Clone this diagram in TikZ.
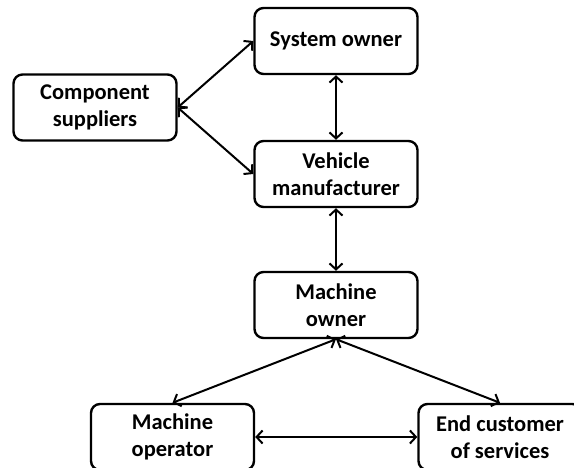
\documentclass[tikz,border=0pt]{standalone}
\usepackage{fontspec}
\setmainfont{Carlito}
\usetikzlibrary{arrows.meta}

\tikzset{
	actor/.style = {draw, rounded corners = 9pt, line width = 2.4pt,
		minimum width = 163pt, minimum height = 66pt, inner sep = 0pt,
		align = center, font = \fontsize{22.5}{27}\selectfont\bfseries},
	link/.style = {line width = 2pt,
		{Straight Barb[length = 6pt, width = 13pt]}-{Straight Barb[length = 6pt, width = 13pt]}}
}

\begin{document}
\begin{tikzpicture}[x = 1pt, y = -1pt]
			\useasboundingbox (0, 0) rectangle (574, 468);
			% upper part
			\node[actor] (owner) at (336, 41) {System owner};
			\node[actor] (suppliers) at (95, 107.5) {Component\\suppliers};
			\node[actor] (vehicle) at (336, 174) {Vehicle\\manufacturer};
			% lower part
			\node[actor] (machine) at (336, 305) {Machine\\owner};
			\node[actor] (operator) at (172.5, 437) {Machine\\operator};
			\node[actor] (customer) at (500, 437) {End customer\\of services};
			% links
			\draw[link] (suppliers.east) -- (owner.west);
			\draw[link] (suppliers.east) -- (vehicle.west);
			\draw[link] (owner) -- (vehicle);
			\draw[link] (vehicle) -- (machine);
			\draw[link] (machine.south) -- (operator.north);
			\draw[link] (machine.south) -- (customer.north);
			\draw[link] (operator) -- (customer);
		\end{tikzpicture}
\end{document}
